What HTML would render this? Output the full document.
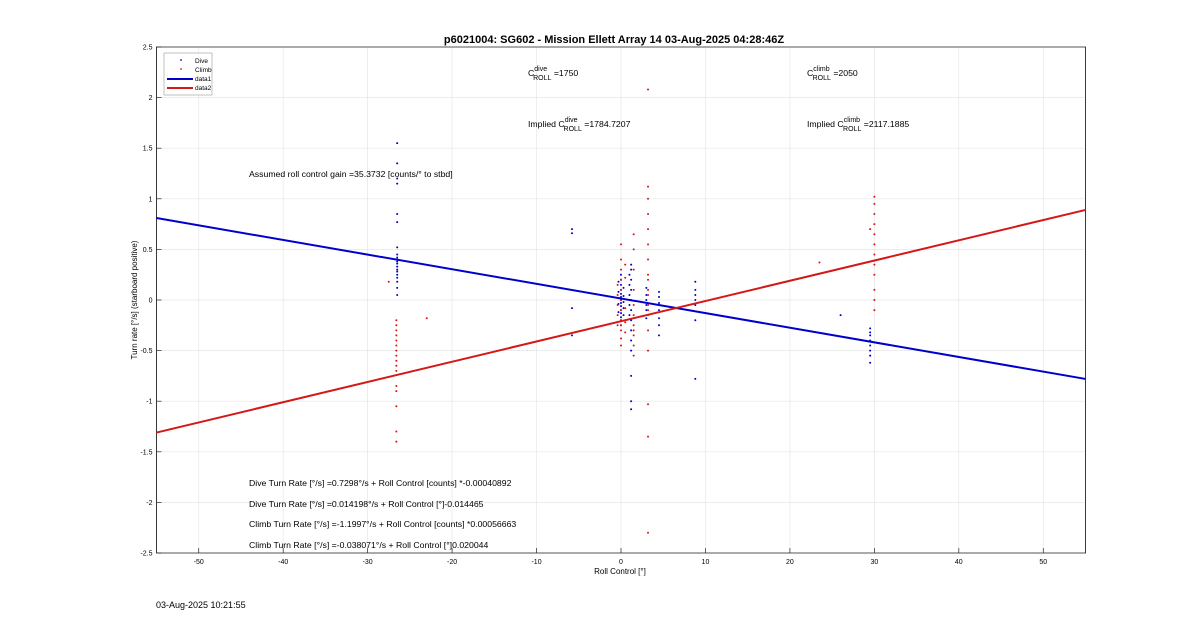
<!DOCTYPE html>
<html><head><meta charset="utf-8"><style>
body{margin:0;background:#fff;font-family:"Liberation Sans",sans-serif}
svg{display:block}
text{font-family:"Liberation Sans",sans-serif;fill:#000}
</style></head><body>
<svg id="chart" width="1200" height="622">
<rect width="1200" height="622" fill="#fff"/>
<g id="grid"></g>
<g id="axes"></g>
<g id="marks"></g>
<text x="614" y="43" font-size="11" font-weight="bold" text-anchor="middle">p6021004: SG602 - Mission Ellett Array 14 03-Aug-2025 04:28:46Z</text>
<text x="620" y="574" font-size="8" text-anchor="middle">Roll Control [°]</text>
<text transform="translate(137,300) rotate(-90)" font-size="8" text-anchor="middle">Turn rate [°/s] (starboard positive)</text>
<g font-size="8.7">
<text x="528" y="76">C<tspan font-size="7" dy="-5">dive</tspan><tspan font-size="7" dx="-14" dy="9">ROLL</tspan><tspan dy="-4"> =1750</tspan></text>
<text x="807" y="76">C<tspan font-size="7" dy="-5">climb</tspan><tspan font-size="7" dx="-17" dy="9">ROLL</tspan><tspan dy="-4"> =2050</tspan></text>
<text x="528" y="127">Implied C<tspan font-size="7" dy="-5">dive</tspan><tspan font-size="7" dx="-14" dy="9">ROLL</tspan><tspan dy="-4"> =1784.7207</tspan></text>
<text x="807" y="127">Implied C<tspan font-size="7" dy="-5">climb</tspan><tspan font-size="7" dx="-17" dy="9">ROLL</tspan><tspan dy="-4"> =2117.1885</tspan></text>
<text x="249" y="177">Assumed roll control gain =35.3732 [counts/° to stbd]</text>
<text x="249" y="486">Dive Turn Rate [°/s] =0.7298°/s + Roll Control [counts] *-0.00040892</text>
<text x="249" y="507">Dive Turn Rate [°/s] =0.014198°/s + Roll Control [°]-0.014465</text>
<text x="249" y="527">Climb Turn Rate [°/s] =-1.1997°/s + Roll Control [counts] *0.00056663</text>
<text x="249" y="548">Climb Turn Rate [°/s] =-0.038071°/s + Roll Control [°]0.020044</text>
</g>
<text x="156" y="608" font-size="9">03-Aug-2025 10:21:55</text>
<g>
<rect x="164" y="53" width="48" height="42" fill="#fff" stroke="#999" stroke-width="0.6"/>
<circle cx="181" cy="60" r="0.9" fill="#0000cc"/><text x="195" y="63" font-size="6.5">Dive</text>
<circle cx="181" cy="69" r="0.9" fill="#dd1111"/><text x="195" y="72" font-size="6.5">Climb</text>
<line x1="167" y1="79" x2="193" y2="79" stroke="#0000cc" stroke-width="2"/><text x="195" y="81" font-size="6.5">data1</text>
<line x1="167" y1="88" x2="193" y2="88" stroke="#d41818" stroke-width="2"/><text x="195" y="90" font-size="6.5">data2</text>
</g>
</svg>
<script>
const xTicks=[-50,-40,-30,-20,-10,0,10,20,30,40,50];
const yTicks=[-2.5,-2,-1.5,-1,-0.5,0,0.5,1,1.5,2,2.5];
const diveX=[-26.5,-26.5,-26.5,-26.5,-26.5,-26.5,-26.5,-26.5,-26.5,-26.5,-26.5,-26.5,-26.5,-26.5,-26.5,-26.5,-26.5,-26.5,-26.5,-26.5,-5.8,-5.8,-5.8,-5.8,0,0,0,0,0,0,0,0,0,0,0,0,0,0,-0.3,-0.3,-0.3,-0.3,-0.3,0.3,0.3,0.3,0.3,0.3,1.2,1.2,1.2,1.2,1.2,1.2,1.2,1.2,1.2,1.2,1.2,1.2,1.2,1,1,1,1,1,3,3,3,3,3,3,4.5,4.5,4.5,4.5,4.5,4.5,4.5,8.8,8.8,8.8,8.8,8.8,8.8,8.8,26,29.5,29.5,29.5,29.5,29.5,29.5,29.5,29.5];
const diveY=[1.55,1.35,1.2,1.15,0.85,0.77,0.52,0.45,0.42,0.4,0.38,0.36,0.33,0.3,0.28,0.25,0.22,0.18,0.12,0.05,0.7,0.66,-0.08,-0.35,0.25,0.2,0.15,0.1,0.06,0.03,0,-0.03,-0.06,-0.1,-0.13,-0.17,-0.2,-0.25,0.18,0.08,0.02,-0.04,-0.12,0.12,0.04,-0.02,-0.08,-0.15,0.35,0.3,0.2,0.1,0,-0.1,-0.2,-0.3,-0.4,-0.5,-0.75,-1.0,-1.08,0.25,0.15,0.05,-0.05,-0.15,0.12,0.05,0,-0.05,-0.1,-0.18,0.08,0.03,-0.03,-0.1,-0.18,-0.25,-0.35,0.18,0.1,0.05,0,-0.05,-0.2,-0.78,-0.15,-0.28,-0.32,-0.35,-0.4,-0.45,-0.5,-0.55,-0.62];
const climbX=[-27.5,-26.6,-26.6,-26.6,-26.6,-26.6,-26.6,-26.6,-26.6,-26.6,-26.6,-26.6,-26.6,-26.6,-26.6,-26.6,-26.6,-23,0,0,0,0,0,0,0,0,0,0,0,0,-0.4,-0.4,-0.4,-0.4,-0.4,0.5,0.5,0.5,0.5,0.5,1.5,1.5,1.5,1.5,1.5,1.5,1.5,1.5,1.5,1.5,1.5,3.2,3.2,3.2,3.2,3.2,3.2,3.2,3.2,3.2,3.2,3.2,3.2,3.2,3.2,3.2,3.2,3.2,3.2,3.2,23.5,29.5,30,30,30,30,30,30,30,30,30,30,30,30];
const climbY=[0.18,-0.2,-0.25,-0.3,-0.35,-0.4,-0.45,-0.5,-0.55,-0.6,-0.65,-0.7,-0.85,-0.9,-1.05,-1.3,-1.4,-0.18,0.55,0.4,0.3,0.2,0.1,0,-0.1,-0.2,-0.25,-0.3,-0.38,-0.45,0.15,0.05,-0.05,-0.15,-0.25,0.35,0.22,-0.08,-0.22,-0.32,0.65,0.5,0.3,0.1,-0.05,-0.15,-0.25,-0.35,-0.45,-0.55,-0.3,2.08,1.12,1.0,0.85,0.7,0.55,0.4,0.25,0.1,-0.05,-0.15,-0.3,-0.5,-1.03,-1.35,-2.3,0.2,0.05,-0.1,0.37,0.7,1.02,0.95,0.85,0.75,0.65,0.55,0.45,0.35,0.25,0.1,0,-0.1];
const fitX=[-55,55];
const diveFitY=[0.81,-0.78];
const climbFitY=[-1.31,0.89];
const X0=156.5,X1=1085.5,Y0=553,Y1=47;
const xs=v=>X0+(v+55)/110*(X1-X0);
const ys=v=>Y0-(v+2.5)/5*(Y0-Y1);
const NS='http://www.w3.org/2000/svg';
function mk(tag,attrs,parent){const e=document.createElementNS(NS,tag);for(const k in attrs)e.setAttribute(k,attrs[k]);parent.appendChild(e);return e;}
const grid=document.getElementById('grid'),axes=document.getElementById('axes'),marks=document.getElementById('marks');
mk('rect',{x:X0,y:Y1,width:X1-X0,height:Y0-Y1,fill:'#fff',stroke:'#262626','stroke-width':0.7},grid);
xTicks.forEach(t=>{
 const l=mk('line',{x1:xs(t),x2:xs(t),y1:Y1,y2:Y0,stroke:'#e6e6e6','stroke-width':0.7},grid);
 
 
 mk('line',{x1:xs(t),x2:xs(t),y1:Y0,y2:Y0-5,stroke:'#262626','stroke-width':0.7},axes);
 const tx=mk('text',{x:xs(t),y:Y0+11,'font-size':7,'text-anchor':'middle',fill:'#262626'},axes);
 tx.textContent=t;
 
 
});
yTicks.forEach(t=>{
 const l=mk('line',{x1:X0,x2:X1,y1:ys(t),y2:ys(t),stroke:'#e6e6e6','stroke-width':0.7},grid);
 
 
 mk('line',{x1:X0,x2:X0+5,y1:ys(t),y2:ys(t),stroke:'#262626','stroke-width':0.7},axes);
 const tx=mk('text',{x:X0-4,y:ys(t)+2.5,'font-size':7,'text-anchor':'end',fill:'#262626'},axes);
 tx.textContent=t;
 
 
});
mk('rect',{x:X0,y:Y1,width:X1-X0,height:Y0-Y1,fill:'none',stroke:'#262626','stroke-width':0.7},axes);
diveX.forEach((x,i)=>{
 const c=mk('circle',{cx:xs(x),cy:ys(diveY[i]),r:1,fill:'#0000cc'},marks);
 
 
});
climbX.forEach((x,i)=>{
 const c=mk('circle',{cx:xs(x),cy:ys(climbY[i]),r:1,fill:'#dd1111'},marks);
 
 
});
const d1=mk('line',{x1:xs(fitX[0]),y1:ys(diveFitY[0]),x2:xs(fitX[1]),y2:ys(diveFitY[1]),stroke:'#0000cc','stroke-width':2},marks);


const d2=mk('line',{x1:xs(fitX[0]),y1:ys(climbFitY[0]),x2:xs(fitX[1]),y2:ys(climbFitY[1]),stroke:'#d41818','stroke-width':2},marks);


</script>
</body></html>
